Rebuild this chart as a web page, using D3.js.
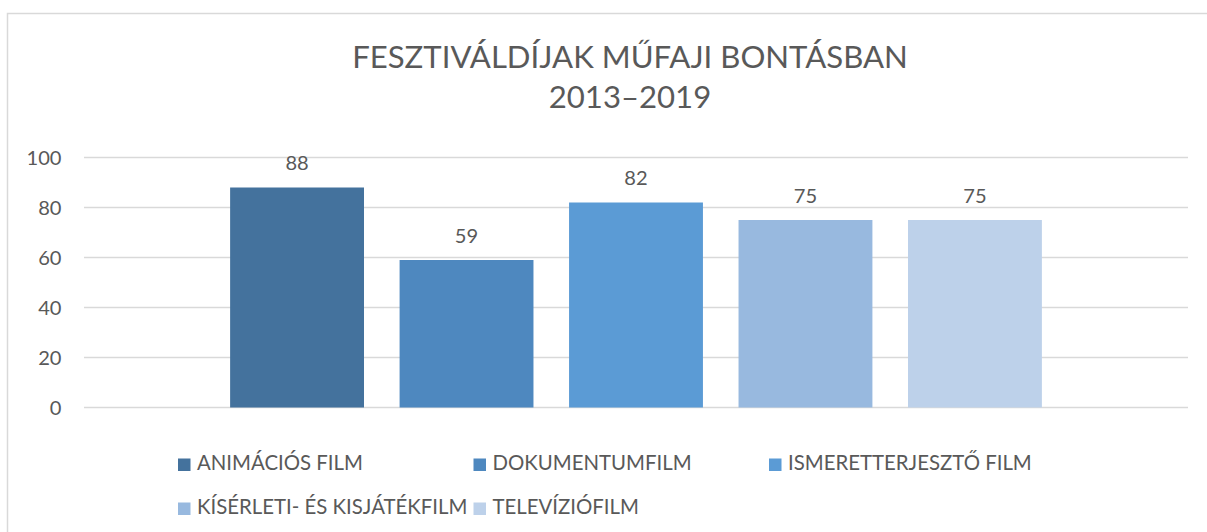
<!DOCTYPE html>
<html>
<head>
<meta charset="utf-8">
<script src="https://cdn.jsdelivr.net/npm/d3@7"></script>
<style>
  html, body { margin: 0; padding: 0; background: #fff; }
  svg { display: block; }
  text { font-family: Lato, "Open Sans", sans-serif; fill: #595959; }
</style>
</head>
<body>
<svg id="chart" width="1207" height="532"></svg>
<script>
// ---- data ----
const titleLines = ["FESZTIVÁLDÍJAK MŰFAJI BONTÁSBAN", "2013–2019"];
const category = ["2013–2019"];
const seriesNames = ["ANIMÁCIÓS FILM", "DOKUMENTUMFILM", "ISMERETTERJESZTŐ FILM", "KÍSÉRLETI- ÉS KISJÁTÉKFILM", "TELEVÍZIÓFILM"];
const seriesValues = [88, 59, 82, 75, 75];
const seriesColors = ["#44729D", "#4E88BF", "#5B9BD5", "#98B9DF", "#BDD1EA"];
const yTicks = [0, 20, 40, 60, 80, 100];

// ---- layout ----
const W = 1207, H = 532;
const plot = { left: 84, right: 1188, top: 157.5, bottom: 407.5 };
const svg = d3.select("#chart");

// helper: fit font size so a text renders with a given width
function fitSize(text, targetWidth, weight) {
  const t = svg.append("text").attr("font-size", 100).attr("font-weight", weight || 400).text(text);
  const w = t.node().getComputedTextLength();
  t.remove();
  return 100 * targetWidth / w;
}

// chart border
svg.append("rect")
  .attr("x", 7.5).attr("y", 13.5)
  .attr("width", W + 20).attr("height", H + 20)
  .attr("fill", "none").attr("stroke", "#D9D9D9").attr("stroke-width", 1.5);

// title
const titleSize = fitSize(titleLines[0], 556);
svg.append("text").attr("x", 630).attr("y", 68).attr("text-anchor", "middle")
  .attr("font-size", titleSize).text(titleLines[0]);
svg.append("text").attr("x", 630).attr("y", 108).attr("text-anchor", "middle")
  .attr("font-size", titleSize).text(titleLines[1]);

// scales
const y = d3.scaleLinear().domain([0, 100]).range([plot.bottom, plot.top]);
const x0 = d3.scaleBand().domain(category).range([plot.left, plot.right]).paddingInner(0).paddingOuter(0.18);
const x1 = d3.scaleBand().domain(seriesNames).range([0, x0.bandwidth()]).paddingInner(0.21).paddingOuter(0);

// gridlines
svg.append("g").selectAll("line").data(yTicks).join("line")
  .attr("x1", plot.left).attr("x2", plot.right)
  .attr("y1", d => y(d)).attr("y2", d => y(d))
  .attr("stroke", "#D9D9D9").attr("stroke-width", d => d === 0 ? 1.6 : 1.3);

// y tick labels
const tickSize = fitSize("100", 35);
svg.append("g").selectAll("text").data(yTicks).join("text")
  .attr("x", 61.5).attr("y", d => y(d) + tickSize * 0.36)
  .attr("text-anchor", "end").attr("font-size", tickSize)
  .text(d => d);

// bars
const data = seriesNames.map((s, i) => ({ series: s, value: seriesValues[i], color: seriesColors[i], cat: category[0] }));
const g = svg.append("g");
g.selectAll("rect").data(data).join("rect")
  .attr("x", d => x0(d.cat) + x1(d.series))
  .attr("y", d => y(d.value))
  .attr("width", x1.bandwidth())
  .attr("height", d => y(0) - y(d.value))
  .attr("fill", d => d.color);

// value labels
g.selectAll("text").data(data).join("text")
  .attr("x", d => x0(d.cat) + x1(d.series) + x1.bandwidth() / 2)
  .attr("y", d => y(d.value) - 17.5)
  .attr("text-anchor", "middle").attr("font-size", tickSize)
  .text(d => d.value);

// legend
const legSize = fitSize(seriesNames[0], 166);
const legCols = 3, colW = 295.5, legX = 178, rowYs = [470, 514];
const leg = svg.append("g").selectAll("g").data(data).join("g")
  .attr("transform", (d, i) => `translate(${legX + (i % legCols) * colW},${rowYs[Math.floor(i / legCols)]})`);
leg.append("rect").attr("x", 0).attr("y", -11.5).attr("width", 12.5).attr("height", 12.5)
  .attr("fill", d => d.color);
leg.append("text").attr("x", 19).attr("y", 0).attr("font-size", legSize).text(d => d.series);
</script>
</body>
</html>
